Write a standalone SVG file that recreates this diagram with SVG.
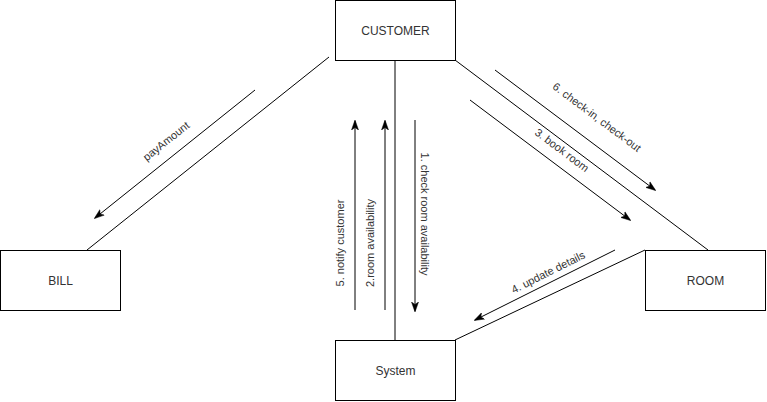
<svg xmlns="http://www.w3.org/2000/svg" width="767" height="402" viewBox="0 0 767 402">
<style>
.box{fill:#fff;stroke:#000;stroke-width:1}
.ln{stroke:#000;stroke-width:1;fill:none}
.ar{stroke:#000;stroke-width:1;fill:none;marker-end:url(#ah)}
.nt{font-family:"Liberation Sans",Arial,sans-serif;font-size:12px;fill:#333;text-anchor:middle;dominant-baseline:central}
.lt{font-family:"Liberation Sans",Arial,sans-serif;font-size:11px;fill:#333;text-anchor:middle;dominant-baseline:central}
</style>
<defs>
<marker id="ah" viewBox="0 0 10 10" refX="9" refY="5" markerWidth="10" markerHeight="10" markerUnits="userSpaceOnUse" orient="auto">
<path d="M0,1.5 L10,5 L0,8.5 L2.5,5 Z" fill="#000" stroke="#000" stroke-width="0.5"/>
</marker>
</defs>
<rect width="767" height="402" fill="#fff"/>
<g id="connectors">
<line class="ln" x1="329" y1="57" x2="87" y2="250"/>
<line class="ln" x1="395" y1="60" x2="395" y2="340"/>
<line class="ln" x1="455" y1="60" x2="708" y2="250"/>
<line class="ln" x1="645" y1="250" x2="455" y2="340"/>
<line class="ar" x1="255" y1="90" x2="95" y2="218"/>
<line class="ar" x1="355" y1="310" x2="355" y2="121"/>
<line class="ar" x1="385" y1="310" x2="385" y2="121"/>
<line class="ar" x1="415" y1="120" x2="415" y2="311"/>
<line class="ar" x1="495" y1="70" x2="655" y2="190"/>
<line class="ar" x1="470" y1="100" x2="630" y2="220"/>
<line class="ar" x1="615" y1="250" x2="475" y2="320"/>
<text class="lt" transform="translate(166,141) rotate(-38.4)">payAmount</text>
<text class="lt" transform="translate(340,243) rotate(-90)">5. notify customer</text>
<text class="lt" transform="translate(370,243) rotate(-90)">2.room availability</text>
<text class="lt" transform="translate(425,214) rotate(90)">1. check room availability</text>
<text class="lt" transform="translate(597,117) rotate(36.87)">6. check-in, check-out</text>
<text class="lt" transform="translate(562,150) rotate(36.87)">3. book room</text>
<text class="lt" transform="translate(548,272) rotate(-26.57)">4. update details</text>
</g>
<g id="customer"><rect class="box" x="335.5" y="0.5" width="120" height="60"/><text class="nt" x="395.5" y="30.5">CUSTOMER</text></g>
<g id="bill"><rect class="box" x="0.5" y="250.5" width="120" height="60"/><text class="nt" x="60.5" y="280.5">BILL</text></g>
<g id="system"><rect class="box" x="335.5" y="340.5" width="120" height="60"/><text class="nt" x="395.5" y="370.5">System</text></g>
<g id="room"><rect class="box" x="645.5" y="250.5" width="120" height="60"/><text class="nt" x="705.5" y="280.5">ROOM</text></g>
</svg>
